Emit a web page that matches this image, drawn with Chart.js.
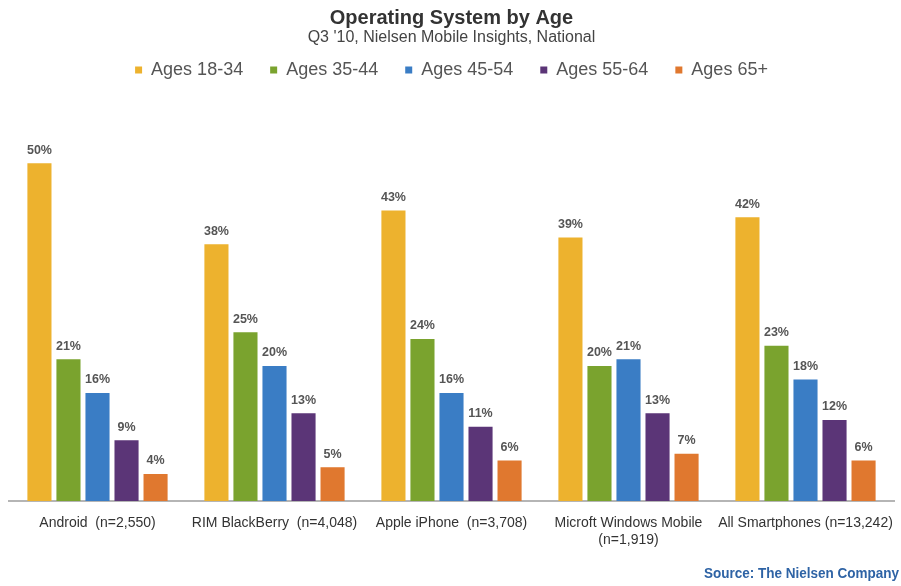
<!DOCTYPE html>
<html>
<head>
<meta charset="utf-8">
<script src="https://cdn.jsdelivr.net/npm/chart.js@4"></script>
<style>
  html, body { margin: 0; padding: 0; background: #fff; }
  #wrap { width: 901px; height: 586px; position: relative; }
</style>
</head>
<body>
<div id="wrap"><canvas id="osChart"></canvas></div>
<script>
var platforms = [
  "Android  (n=2,550)",
  "RIM BlackBerry  (n=4,048)",
  "Apple iPhone  (n=3,708)",
  ["Microft Windows Mobile", "(n=1,919)"],
  "All Smartphones (n=13,242)"
];
var ageGroups = ["Ages 18-34", "Ages 35-44", "Ages 45-54", "Ages 55-64", "Ages 65+"];
var ages18to34 = [50, 38, 43, 39, 42];
var ages35to44 = [21, 25, 24, 20, 23];
var ages45to54 = [16, 20, 16, 21, 18];
var ages55to64 = [9, 13, 11, 13, 12];
var ages65plus = [4, 5, 6, 7, 6];
var ageColors = ["#EDB22E", "#7AA32E", "#3A7DC5", "#5B3577", "#E0782F"];

var seriesValues = [ages18to34, ages35to44, ages45to54, ages55to64, ages65plus];

// value labels on top of each bar
var barLabels = {
  id: "barLabels",
  afterDatasetsDraw: function(chart) {
    var ctx = chart.ctx;
    ctx.save();
    ctx.font = "bold 12.5px 'Liberation Sans', Arial, sans-serif";
    ctx.fillStyle = "#555";
    ctx.textAlign = "center";
    ctx.textBaseline = "middle";
    chart.data.datasets.forEach(function(ds, i) {
      chart.getDatasetMeta(i).data.forEach(function(bar, j) {
        ctx.fillText(ds.data[j] + "%", bar.x, bar.y - 13);
      });
    });
    ctx.restore();
  }
};

var sourceNote = {
  id: "sourceNote",
  afterDraw: function(chart) {
    var ctx = chart.ctx;
    ctx.save();
    ctx.font = "bold 15px 'Liberation Sans Narrow', 'Liberation Sans', Arial, sans-serif";
    ctx.fillStyle = "#2E63A5";
    ctx.textAlign = "right";
    ctx.textBaseline = "middle";
    ctx.translate(899, 574);
    ctx.scale(0.9, 1); // narrower, like the original face
    ctx.fillText("Source: The Nielsen Company", 0, 0);
    ctx.restore();
  }
};

var osDatasets = [];
for (let i = 0; i < ageGroups.length; i++) {
  osDatasets.push({
    label: ageGroups[i],
    data: seriesValues[i],
    backgroundColor: ageColors[i],
    borderWidth: 0,
    categoryPercentage: 0.82,
    barPercentage: 0.83
  });
}

const configOs = {
  type: "bar",
  data: {
    labels: platforms,
    datasets: osDatasets
  },
  options: {
    responsive: true,
    maintainAspectRatio: false,
    animation: false,
    layout: {
      padding: { left: 9, right: 7, top: 0, bottom: 23 }
    },
    plugins: {
      title: {
        display: true,
        text: "Operating System by Age",
        color: "#333",
        font: { family: "'Liberation Sans', Arial, sans-serif", size: 20, weight: "bold", lineHeight: 1 },
        padding: { top: 8.5, bottom: 0 }
      },
      subtitle: {
        display: true,
        text: "Q3 '10, Nielsen Mobile Insights, National",
        color: "#444",
        font: { family: "'Liberation Sans', Arial, sans-serif", size: 16, lineHeight: 1 },
        padding: { top: 1.5, bottom: -12 }
      },
      legend: {
        display: true,
        position: "top",
        labels: {
          boxWidth: 7,
          boxHeight: 7,
          padding: 27,
          color: "#555",
          font: { family: "'Liberation Sans', Arial, sans-serif", size: 18 }
        }
      },
      tooltip: { enabled: false }
    },
    scales: {
      x: {
        grid: { display: false, drawTicks: false },
        border: { display: true, color: "#b5b5b5", width: 2 },
        ticks: {
          color: "#333",
          padding: 14,
          font: { family: "'Liberation Sans', Arial, sans-serif", size: 14, lineHeight: 1.214 },
          maxRotation: 0,
          autoSkip: false
        },
        // let the end labels run to the edge instead of shrinking the plot
        afterFit: function(scale) {
          scale.paddingLeft = 0;
          scale.paddingRight = 0;
        }
      },
      y: {
        display: false,
        min: 0,
        max: 61
      }
    }
  },
  plugins: [barLabels, sourceNote]
};

var osChart = new Chart(document.getElementById("osChart"), configOs);
</script>
</body>
</html>
